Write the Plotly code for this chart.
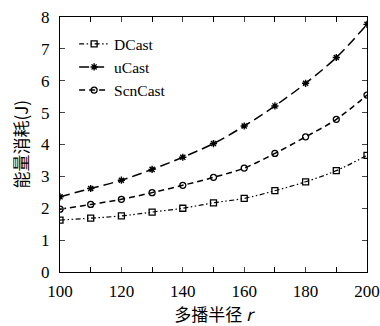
import plotly.graph_objects as go

r = [100, 110, 120, 130, 140, 150, 160, 170, 180, 190, 200]
dcast = [1.63, 1.69, 1.76, 1.88, 2.00, 2.17, 2.31, 2.55, 2.83, 3.18, 3.66]
ucast = [2.36, 2.62, 2.88, 3.22, 3.60, 4.03, 4.58, 5.21, 5.92, 6.73, 7.77]
scncast = [1.97, 2.12, 2.28, 2.49, 2.72, 2.97, 3.26, 3.72, 4.24, 4.79, 5.55]
x_ticks = [100, 120, 140, 160, 180, 200]
y_ticks = [0, 1, 2, 3, 4, 5, 6, 7, 8]

serif = "Liberation Serif, DejaVu Serif, serif"
cjk = "Noto Sans CJK SC, " + serif
fig = go.Figure()
fig.add_trace(go.Scatter(x=r, y=dcast, name="DCast", mode="lines+markers",
    line=dict(color="black", width=1.2, dash="5px,2.5px,1.5px,2.5px,1.5px,2.5px", shape="spline"),
    marker=dict(symbol="square-open", size=6, color="black", line=dict(width=1.3))))
fig.add_trace(go.Scatter(x=r, y=ucast, name="uCast", mode="lines+markers",
    line=dict(color="black", width=1.5, dash="10px,5px", shape="spline"),
    marker=dict(symbol="asterisk-open", size=6, color="black", line=dict(width=1.4))))
fig.add_trace(go.Scatter(x=r, y=scncast, name="ScnCast", mode="lines+markers",
    line=dict(color="black", width=1.5, dash="6px,4px", shape="spline"),
    marker=dict(symbol="circle-open", size=6, color="black", line=dict(width=1.3))))

fig.update_layout(
    width=380, height=326,
    margin=dict(l=60, r=13, t=17, b=54),
    paper_bgcolor="white", plot_bgcolor="white",
    font=dict(family=serif, size=17, color="black"),
    showlegend=True,
    legend=dict(x=0.046, y=0.96, xanchor="left", yanchor="top", bgcolor="rgba(0,0,0,0)",
                font=dict(family=serif, size=15.5), itemwidth=30, tracegroupgap=0),
    annotations=[dict(text="能量消耗(J)", xref="paper", yref="paper", x=-0.13, y=0.5,
                      xanchor="center", yanchor="middle", textangle=-90, showarrow=False,
                      font=dict(family=cjk, size=17))],
)
fig.update_xaxes(range=[100, 200], tickvals=x_ticks, ticks="inside", ticklen=5,
    showline=True, linecolor="black", linewidth=1.2, mirror="ticks", showgrid=False,
    zeroline=False, automargin=False, ticklabelstandoff=3,
    minor=dict(dtick=10, ticks="inside", ticklen=5, tickcolor="black"),
    title=dict(text="多播半径 <i>r</i>", font=dict(family=cjk, size=17), standoff=9))
fig.update_yaxes(range=[0, 8], tickvals=y_ticks, ticks="inside", ticklen=5,
    showline=True, linecolor="black", linewidth=1.2, mirror="ticks", showgrid=False,
    zeroline=False, automargin=False, ticklabelstandoff=6)
fig.write_html("out.html", config={"displayModeBar": False},
    post_script="document.body.style.margin='0';document.body.style.overflow='hidden';")
